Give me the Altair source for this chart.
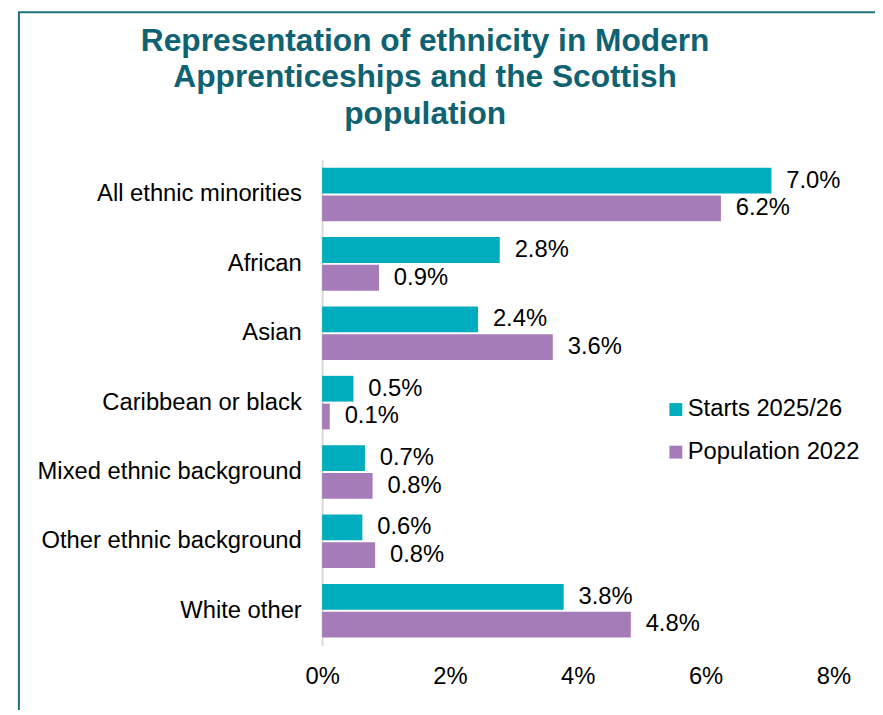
import altair as alt
import pandas as pd

categories = ["All ethnic minorities", "African", "Asian", "Caribbean or black",
              "Mixed ethnic background", "Other ethnic background", "White other"]
series = ["Starts 2025/26", "Population 2022"]
starts = [7.03, 2.78, 2.44, 0.49, 0.67, 0.63, 3.78]
population = [6.24, 0.89, 3.61, 0.12, 0.79, 0.83, 4.83]
starts_labels = ["7.0%", "2.8%", "2.4%", "0.5%", "0.7%", "0.6%", "3.8%"]
population_labels = ["6.2%", "0.9%", "3.6%", "0.1%", "0.8%", "0.8%", "4.8%"]
x_ticks = [0, 2, 4, 6, 8]
colors = ["#00adbf", "#a67cb8"]
title_lines = ["Representation of ethnicity in Modern",
               "Apprenticeships and the Scottish", "population"]

rows = []
for c, v, l in zip(categories, starts, starts_labels):
    rows.append({"category": c, "series": series[0], "value": v, "label": l})
for c, v, l in zip(categories, population, population_labels):
    rows.append({"category": c, "series": series[1], "value": v, "label": l})
df = pd.DataFrame(rows)

FONT = "Liberation Sans"

y_enc = alt.Y("category:N", sort=categories, title=None,
              scale=alt.Scale(paddingInner=16 / 70, paddingOuter=8 / 70),
              axis=alt.Axis(labelFontSize=24, labelColor="#000000", labelFont=FONT,
                            ticks=False, labelPadding=21, domainColor="#d9d9d9",
                            domainWidth=2, grid=False, labelLimit=400))
yoff_enc = alt.YOffset("series:N", sort=series,
                       scale=alt.Scale(paddingInner=2 / 28, paddingOuter=0))
x_enc = alt.X("value:Q", title=None,
              scale=alt.Scale(domain=[0, 8], nice=False),
              axis=alt.Axis(values=x_ticks, labelExpr="datum.value + '%'",
                            labelFontSize=24, labelColor="#000000", labelFont=FONT,
                            ticks=False, domain=False, grid=False, labelPadding=20,
                            labelFlush=False))

bars = alt.Chart(df).mark_bar().encode(
    y=y_enc, yOffset=yoff_enc, x=x_enc,
    color=alt.Color("series:N", sort=series, title=None,
                    scale=alt.Scale(domain=series, range=colors),
                    legend=alt.Legend(orient="none", legendX=345, legendY=240,
                                      symbolType="square", symbolSize=169,
                                      symbolStrokeWidth=0,
                                      labelFontSize=24, labelFont=FONT,
                                      labelColor="#000000", labelOffset=0,
                                      rowPadding=19, padding=0, labelLimit=400)),
)

labels = alt.Chart(df).mark_text(align="left", baseline="middle", dx=15,
                                 fontSize=24, font=FONT, color="#000000").encode(
    y=alt.Y("category:N", sort=categories),
    yOffset=alt.YOffset("series:N", sort=series),
    x=alt.X("value:Q"),
    text="label:N",
)

border = alt.Chart(pd.DataFrame({"a": [0]})).mark_rect(
    fill=None, stroke="#1d7380", strokeWidth=2).encode(
    x=alt.value(-306), x2=alt.value(800),
    y=alt.value(-149), y2=alt.value(800),
)

title = alt.Chart(pd.DataFrame({"a": [0]})).mark_text(
    text=title_lines, fontSize=32, font=FONT, fontWeight="bold", color="#0f6272",
    align="center", baseline="middle", lineHeight=37).encode(
    x=alt.value(104), y=alt.value(-120),
)

chart = alt.layer(border, title, bars, labels).properties(
    width=516, height=490,
    autosize=alt.AutoSizeParams(type="none"),
    padding={"left": 317, "top": 150, "right": 42, "bottom": 62},
).configure_view(stroke=None)

chart.save("out.html", embed_options={"renderer": "svg", "actions": False})
